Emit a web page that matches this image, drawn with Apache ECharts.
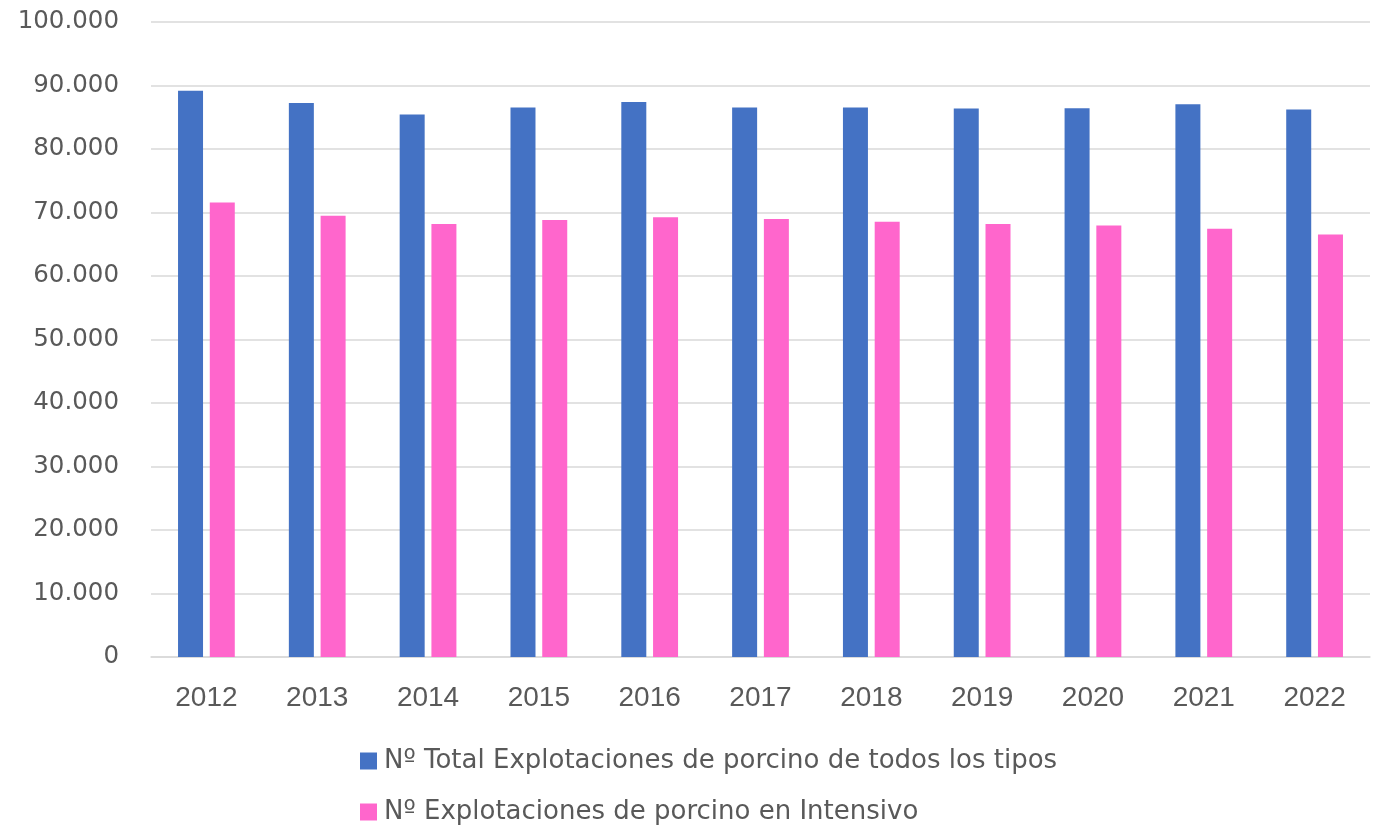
<!DOCTYPE html>
<html>
<head>
<meta charset="utf-8">
<script src="https://cdn.jsdelivr.net/npm/echarts@6/dist/echarts.min.js"></script>
<style>html,body{margin:0;padding:0;background:#fff;}#c{width:1387px;height:828px;}</style>
</head>
<body>
<div id="c"></div>
<script>
const categories = ['2012','2013','2014','2015','2016','2017','2018','2019','2020','2021','2022'];
const totalValues = [89160, 87260, 85420, 86530, 87420, 86530, 86530, 86370, 86420, 87050, 86220];
const intensiveValues = [71580, 69480, 68170, 68800, 69270, 68960, 68530, 68170, 67950, 67430, 66530];
const seriesNames = ['Nº Total Explotaciones de porcino de todos los tipos', 'Nº Explotaciones de porcino en Intensivo'];

const chart = echarts.init(document.getElementById('c'), null, {renderer: 'canvas'});
chart.setOption({
  animation: false,
  backgroundColor: '#ffffff',
  grid: {left: 151, right: 17, top: 22, bottom: 171, containLabel: false},
  legend: {
    orient: 'vertical',
    left: 360,
    top: 748,
    height: 80,
    padding: 0,
    itemWidth: 17,
    itemHeight: 17,
    itemGap: 25,
    icon: 'rect',
    textStyle: {fontFamily: 'DejaVu Sans', fontSize: 26, color: '#595959', padding: [0,0,0,2]},
    data: seriesNames
  },
  xAxis: {
    type: 'category',
    data: categories,
    axisLine: {lineStyle: {color: '#d9d9d9', width: 1.5}},
    axisTick: {show: false},
    axisLabel: {fontFamily: 'Liberation Sans', fontSize: 28, color: '#595959', margin: 27}
  },
  yAxis: {
    type: 'value',
    min: 0,
    max: 100000,
    interval: 10000,
    axisLine: {show: false},
    axisTick: {show: false},
    splitLine: {lineStyle: {color: '#d9d9d9', width: 1.5}},
    axisLabel: {
      fontFamily: 'DejaVu Sans', fontSize: 24.5, color: '#595959', margin: 32,
      formatter: v => v === 0 ? '0' : String(v).replace(/\B(?=(\d{3})+(?!\d))/g, '.')
    }
  },
  series: [
    {name: seriesNames[0], type: 'bar', data: totalValues, itemStyle: {color: '#4472C4'}, barWidth: 25, barGap: '27%'},
    {name: seriesNames[1], type: 'bar', data: intensiveValues, itemStyle: {color: '#FF66CC'}, barWidth: 25, barGap: '27%'}
  ]
});
</script>
</body>
</html>
